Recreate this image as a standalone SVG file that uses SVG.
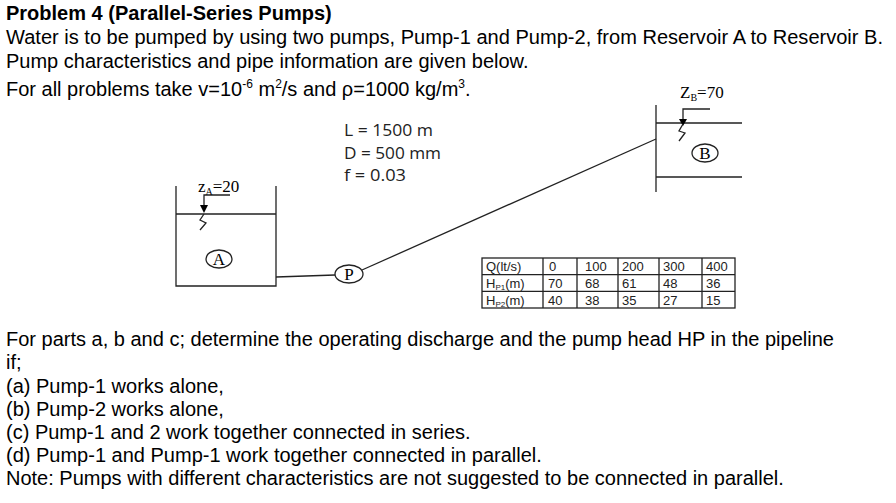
<svg xmlns="http://www.w3.org/2000/svg" width="896" height="503" viewBox="0 0 896 503">
<style>
.t{font-family:"Liberation Sans",Arial,sans-serif;font-size:20px;fill:#000}
.s{font-family:"Liberation Serif","Times New Roman",serif;font-size:17px;fill:#000}
.c{font-family:"Open Sans","DejaVu Sans",sans-serif;font-size:16px;fill:#222}
.tb{font-family:"Liberation Sans",Arial,sans-serif;font-size:13px;fill:#222}
.l{stroke:#222;stroke-width:1.3;fill:none}
</style>
<rect width="896" height="503" fill="#fff"/>
<g id="text-top">
<text class="t" x="6" y="20" font-weight="bold">Problem 4 (Parallel-Series Pumps)</text>
<text class="t" x="6" y="44" textLength="877" lengthAdjust="spacingAndGlyphs">Water is to be pumped by using two pumps, Pump-1 and Pump-2, from Reservoir A to Reservoir B.</text>
<text class="t" x="6" y="68">Pump characteristics and pipe information are given below.</text>
<text class="t" x="6" y="96">For all problems take v=10<tspan dy="-8" font-size="12">-6</tspan><tspan dy="8"> m</tspan><tspan dy="-8" font-size="12">2</tspan><tspan dy="8">/s and ρ=1000 kg/m</tspan><tspan dy="-8" font-size="12">3</tspan><tspan dy="8">.</tspan></text>
</g>
<g id="pipe-info">
<text class="c" x="344" y="136" textLength="89" lengthAdjust="spacingAndGlyphs">L = 1500 m</text>
<text class="c" x="344" y="159" textLength="97" lengthAdjust="spacingAndGlyphs">D = 500 mm</text>
<text class="c" x="344" y="181" textLength="62" lengthAdjust="spacingAndGlyphs">f = 0.03</text>
</g>
<g id="reservoir-A">
<path class="l" d="M176 186V286H276V186M176 214H276"/>
<text class="s" x="198" y="192">z<tspan font-size="10" dy="3">A</tspan><tspan dy="-3">=20</tspan></text>
<path class="l" d="M230 195H204V210"/>
<path d="M200 205H208L204 213Z" fill="#000"/>
<path class="l" d="M204 214L200 220L206 223L200 230"/>
<ellipse class="l" cx="219" cy="259" rx="13" ry="9"/>
<text class="s" x="219" y="265" text-anchor="middle" font-size="15">A</text>
</g>
<g id="reservoir-B">
<path class="l" d="M656 105V192M656 123H742M656 177H742"/>
<text class="s" x="680" y="98">Z<tspan font-size="10" dy="3">B</tspan><tspan dy="-3">=70</tspan></text>
<path class="l" d="M710 109H683V121"/>
<path d="M679 119H687L683 126Z" fill="#000"/>
<path class="l" d="M683 124L679 131L685 133L679 141"/>
<ellipse class="l" cx="705" cy="153" rx="13" ry="9"/>
<text class="s" x="705" y="159" text-anchor="middle" font-size="15">B</text>
</g>
<g id="pump">
<ellipse class="l" cx="349" cy="274" rx="14" ry="9"/>
<text class="s" x="349" y="280" text-anchor="middle" font-size="15">P</text>
</g>
<g id="connectors">
<path class="l" d="M276 277L335 275"/>
<path class="l" d="M362 270L656 139"/>
</g>
<g id="table">
<rect class="l" x="482" y="258" width="253" height="50" stroke-width="1"/>
<path class="l" stroke-width="1" d="M482 274.7H735M482 291.3H735M543 258V308M577 258V308M618 258V308M659 258V308M702 258V308"/>
<text class="tb" x="486" y="271">Q(lt/s)</text><text class="tb" x="549" y="271">0</text><text class="tb" x="585" y="271">100</text><text class="tb" x="622" y="271">200</text><text class="tb" x="663" y="271">300</text><text class="tb" x="706" y="271">400</text>
<text class="tb" x="486" y="288">H<tspan font-size="8" dy="2">P1</tspan><tspan dy="-2">(m)</tspan></text><text class="tb" x="548" y="288">70</text><text class="tb" x="585" y="288">68</text><text class="tb" x="622" y="288">61</text><text class="tb" x="663" y="288">48</text><text class="tb" x="706" y="288">36</text>
<text class="tb" x="486" y="305">H<tspan font-size="8" dy="2">P2</tspan><tspan dy="-2">(m)</tspan></text><text class="tb" x="548" y="305">40</text><text class="tb" x="585" y="305">38</text><text class="tb" x="622" y="305">35</text><text class="tb" x="663" y="305">27</text><text class="tb" x="706" y="305">15</text>
</g>
<g id="text-bottom">
<text class="t" x="6" y="346">For parts a, b and c; determine the operating discharge and the pump head HP in the pipeline</text>
<text class="t" x="6" y="369">if;</text>
<text class="t" x="6" y="393">(a) Pump-1 works alone,</text>
<text class="t" x="6" y="416">(b) Pump-2 works alone,</text>
<text class="t" x="6" y="439">(c) Pump-1 and 2 work together connected in series.</text>
<text class="t" x="6" y="462">(d) Pump-1 and Pump-1 work together connected in parallel.</text>
<text class="t" x="6" y="485">Note: Pumps with different characteristics are not suggested to be connected in parallel.</text>
</g>
</svg>
